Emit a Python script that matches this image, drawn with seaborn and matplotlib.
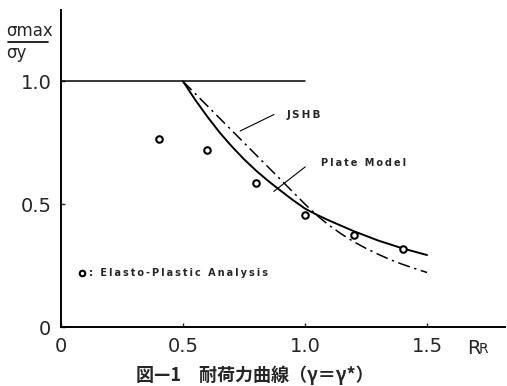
import matplotlib
matplotlib.use("Agg")
import matplotlib.pyplot as plt
import seaborn as sns

# Plate Model (solid)
plate_r = [0.5, 0.55, 0.6, 0.65, 0.7, 0.75, 0.8, 0.85, 0.9, 0.95, 1.0,
           1.05, 1.1, 1.2, 1.3, 1.4, 1.5]
plate_s = [1.0, 0.925, 0.856, 0.792, 0.735, 0.683, 0.636, 0.594, 0.555, 0.517, 0.482,
           0.456, 0.433, 0.39, 0.352, 0.32, 0.293]

# JSHB (dash-dot)
jshb_r = [0.5, 1.0, 1.05, 1.1, 1.15, 1.2, 1.25, 1.3, 1.35, 1.4, 1.45, 1.5]
jshb_s = [1.0, 0.5, 0.453, 0.413, 0.378, 0.347, 0.32, 0.296, 0.274, 0.255, 0.238, 0.222]

# Elasto-Plastic Analysis (circles)
ep_r = [0.4, 0.6, 0.8, 1.0, 1.2, 1.4]
ep_s = [0.765, 0.72, 0.585, 0.455, 0.375, 0.317]

xticks = [0, 0.5, 1.0, 1.5]
xtick_labels = ["0", "0.5", "1.0", "1.5"]
yticks = [0, 0.5, 1.0]
ytick_labels = ["0", "0.5", "1.0"]


def spaced(s):
    # thin spaces between letters, like the typewriter-style labels
    return "\u2009".join(s)


sns.set_style("ticks")
plt.rcParams["font.family"] = ["DejaVu Sans"]

fig = plt.figure(figsize=(5.07, 3.86), dpi=100)
ax = fig.add_axes([0.1203, 0.1528, 0.876, 0.821])

ax.plot([0, 1.0], [1.0, 1.0], color="black", lw=1.1)
sns.lineplot(x=plate_r, y=plate_s, ax=ax, color="black", lw=1.4, sort=False)
sns.lineplot(x=jshb_r, y=jshb_s, ax=ax, color="black", lw=1.1, sort=False,
             linestyle=(0, (8, 3, 1.5, 3)))
sns.scatterplot(x=ep_r, y=ep_s, ax=ax, marker="o", s=22, facecolor="white",
                edgecolor="black", linewidth=1.5, zorder=5)

# legend-like note
ax.scatter([0.086], [0.22], marker="o", s=16, facecolor="white",
           edgecolor="black", linewidth=1.5, zorder=5)
ax.text(0.115, 0.22, spaced(": Elasto-Plastic Analysis"), fontsize=7,
        fontweight="bold", va="center", ha="left")

# curve labels with leader lines
ax.annotate("", xy=(0.724, 0.793), xytext=(0.883, 0.87),
            arrowprops=dict(arrowstyle="-", lw=0.8, color="black"))
ax.text(0.925, 0.862, spaced("JSHB"), fontsize=7.5, fontweight="bold", va="center")
ax.annotate("", xy=(0.863, 0.545), xytext=(1.01, 0.659),
            arrowprops=dict(arrowstyle="-", lw=0.8, color="black"))
ax.text(1.067, 0.667, spaced("Plate Model"), fontsize=7, fontweight="bold",
        va="center")

ax.set_xlim(0, 1.82)
ax.set_ylim(0, 1.29)
ax.set_xticks(xticks)
ax.set_xticklabels(xtick_labels)
ax.set_yticks(yticks)
ax.set_yticklabels(ytick_labels)
ax.tick_params(direction="in", length=3, width=1, labelsize=14, pad=7)
for s in ["top", "right"]:
    ax.spines[s].set_visible(False)
for s in ["left", "bottom"]:
    ax.spines[s].set_linewidth(1.4)
    ax.spines[s].set_color("black")

# y axis label as fraction
fig.text(0.012, 1 - 31 / 386, "σmax", fontsize=12, va="center", ha="left")
fig.add_artist(plt.Line2D([0.015, 0.095], [1 - 42 / 386, 1 - 42 / 386],
                          color="black", lw=1.2))
fig.text(0.012, 1 - 53 / 386, "σy", fontsize=12, va="center", ha="left")

# x axis label R_R
fig.text(467 / 507, 1 - 348 / 386, "R", fontsize=14, va="center", ha="left")
fig.text(479 / 507, 1 - 349 / 386, "R", fontsize=10, va="center", ha="left")

# caption
fig.text(255 / 507, 1 - 375 / 386, "図—1　耐荷力曲線（γ＝γ*）", fontsize=13,
         fontweight="bold", ha="center", va="center",
         family=["Noto Sans CJK JP", "DejaVu Sans"])

fig.savefig("out.png", dpi=100)
